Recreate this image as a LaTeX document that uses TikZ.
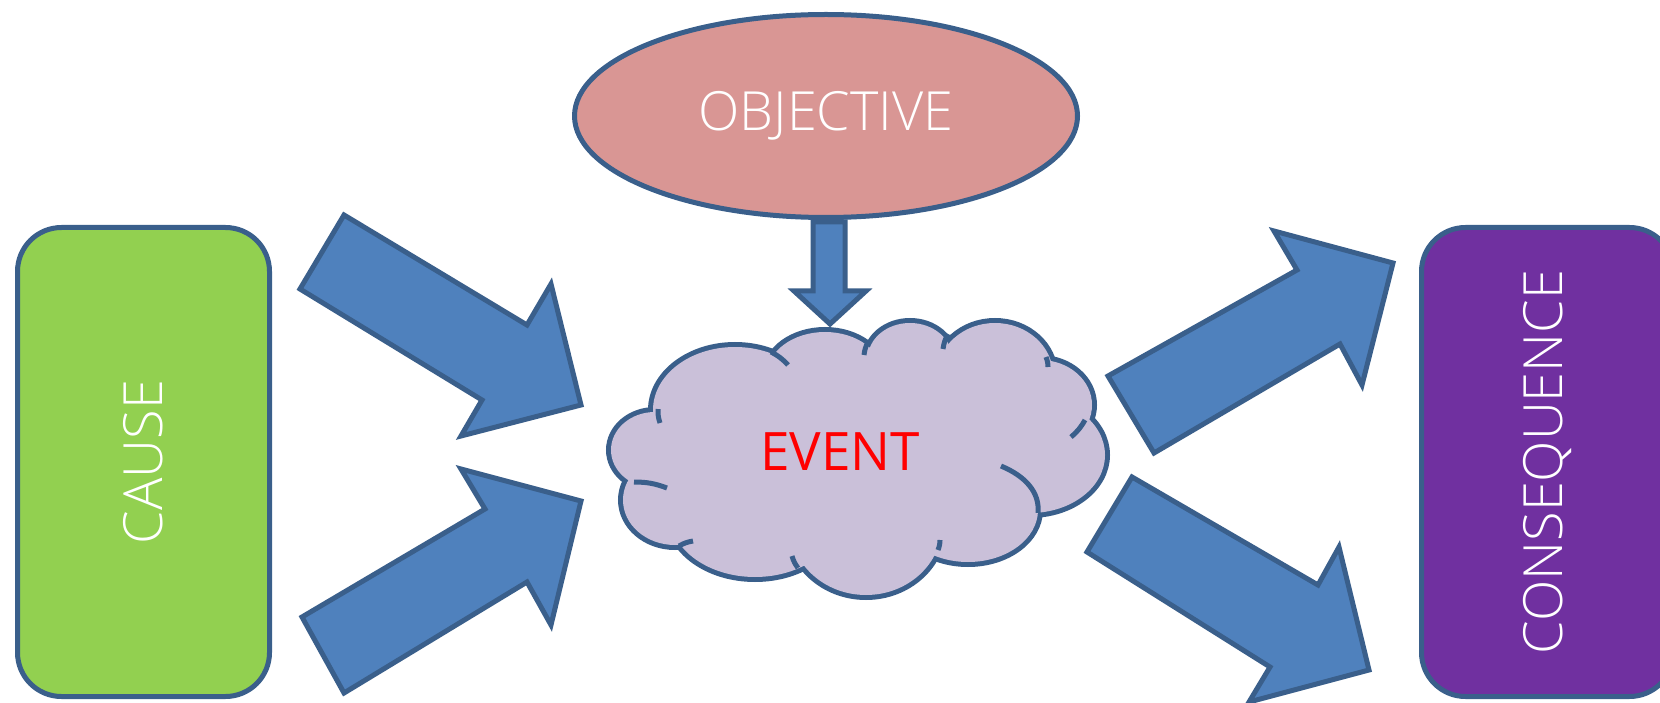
\documentclass[tikz,border=0pt]{standalone}
\usepackage{fontspec}
\setmainfont{Open Sans Light}
\newfontfamily\eventfont{Open Sans}
\usetikzlibrary{shapes.geometric}
\definecolor{lineblue}{HTML}{3A5F8B}
\definecolor{arrowblue}{HTML}{4F81BD}
\definecolor{causegreen}{HTML}{92D050}
\definecolor{conspurple}{HTML}{7030A0}
\definecolor{objpink}{HTML}{D99694}
\definecolor{cloudlilac}{HTML}{CAC0D9}
\definecolor{eventred}{HTML}{FF0000}
\tikzset{
  blockarrow/.style={draw=lineblue, fill=arrowblue, line width=5pt},
  sidebox/.style={draw=lineblue, line width=5pt, rounded corners=44pt, rotate=90,
    minimum width=469pt, minimum height=252pt, text=white, font=\fontsize{54}{60}\selectfont, inner sep=0pt},
  lobeline/.style={draw=lineblue, line width=10pt, fill=cloudlilac},
  lobefill/.style={fill=cloudlilac},
  tailline/.style={draw=lineblue, line width=5pt},
}
\begin{document}
\begin{tikzpicture}[x=1pt,y=-1pt]
\useasboundingbox (0,0) rectangle (1660,703);

% side boxes
\node[sidebox, fill=causegreen] (cause) at (143.5,462) {CAUSE};
\node[sidebox, fill=conspurple] (consequence) at (1547.5,462) {CONSEQUENCE};

% objective
\node[ellipse, draw=lineblue, line width=5pt, fill=objpink, minimum width=503pt, minimum height=203pt,
      text=white, font=\fontsize{54}{60}\selectfont] (objective) at (826,116) {OBJECTIVE};

% small arrow from objective to event
\draw[blockarrow] (813,222) -- (845,222) -- (845,291) -- (866,291) -- (830,324) -- (794,291) -- (813,291) -- cycle;

% cloud (event)
\foreach \cx/\cy/\rx/\ry in {655/450/44/38, 735/410/82/63, 825/375/58/43, 910/358/42/35, 995/375/58/52,
  1040/405/52/45, 1030/455/75/58, 968/510/70/52, 866/525/76/70, 755/515/85/62, 675/500/52/45, 855/455/160/90}
  \path[lobeline] (\cx,\cy) ellipse[x radius=\rx, y radius=\ry];
\foreach \cx/\cy/\rx/\ry in {655/450/44/38, 735/410/82/63, 825/375/58/43, 910/358/42/35, 995/375/58/52,
  1040/405/52/45, 1030/455/75/58, 968/510/70/52, 866/525/76/70, 755/515/85/62, 675/500/52/45, 855/455/160/90}
  \path[lobefill] (\cx,\cy) ellipse[x radius=\rx, y radius=\ry];
\draw[tailline] (658,409) to[bend right=10] (660,423);
\draw[tailline] (771,352) to[bend left=10] (788,365);
\draw[tailline] (868,342) to[bend right=10] (864,355);
\draw[tailline] (948,334) to[bend right=10] (943,349);
\draw[tailline] (1046,357) to[bend left=10] (1048,367);
\draw[tailline] (1085,420) to[bend left=10] (1071,437);
\draw[tailline] (1001,466) .. controls (1025,476) and (1040,492) .. (1038,513);
\draw[tailline] (938,550) to[bend right=10] (940,540);
\draw[tailline] (798,568) to[bend left=10] (792,556);
\draw[tailline] (679,546) to[bend left=10] (693,541);
\draw[tailline] (634,482) to[bend left=10] (667,488);
\node[text=eventred, font=\eventfont\fontsize{53}{60}\selectfont] (event) at (840,452) {EVENT};

% big arrows
\draw[blockarrow] (344,215) -- (300,289) -- (482,400) -- (461,436) -- (581,405) -- (551,284) -- (527,325) -- cycle;
\draw[blockarrow] (344,693) -- (302,617) -- (485,509) -- (461,469) -- (581,501) -- (551,625) -- (527,582) -- cycle;
\draw[blockarrow] (1154,453) -- (1108,376) -- (1297,270) -- (1274,231) -- (1393,263) -- (1362,385) -- (1340,344) -- cycle;
\draw[blockarrow] (1132,477) -- (1087,552) -- (1270,667) -- (1249,702) -- (1369,670) -- (1339,547) -- (1318,585) -- cycle;
\end{tikzpicture}
\end{document}
